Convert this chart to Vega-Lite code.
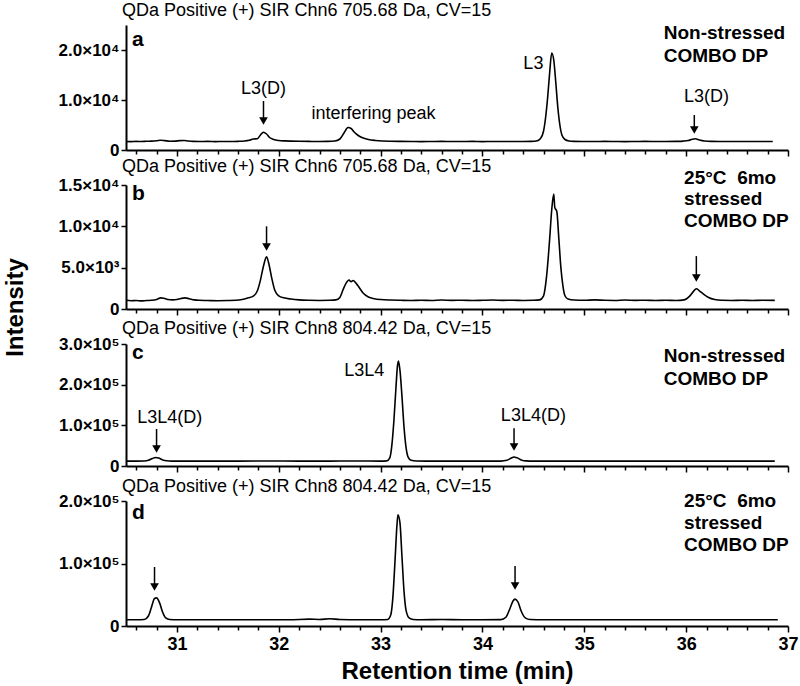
{
  "$schema": "https://vega.github.io/schema/vega-lite/v6.json",
  "padding": {"left": 3, "top": 1, "right": 5, "bottom": 2},
  "background": "white",
  "spacing": 35,
  "bounds": "flush",
  "config": {
    "view": {"stroke": null},
    "font": "Liberation Sans",
    "axis": {"domainColor": "black", "domainWidth": 2, "tickColor": "black", "tickWidth": 1.5, "grid": false, "labelColor": "black", "titleColor": "black", "labelFont": "Liberation Sans", "titleFont": "Liberation Sans"},
    "title": {"anchor": "start", "frame": "group", "fontSize": 18, "fontWeight": "normal", "color": "black", "font": "Liberation Sans", "dx": -4, "offset": 4}
  },
  "datasets": {
    "traces": [
      {"p":"a","t":30.5,"v":1700},{"p":"a","t":30.55,"v":1680},{"p":"a","t":30.6,"v":1720},{"p":"a","t":30.65,"v":1690},{"p":"a","t":30.7,"v":1750},{"p":"a","t":30.75,"v":1780},{"p":"a","t":30.8,"v":1850},{"p":"a","t":30.84,"v":1950},{"p":"a","t":30.88,"v":1880},{"p":"a","t":30.93,"v":1760},{"p":"a","t":30.98,"v":1780},{"p":"a","t":31.03,"v":1880},{"p":"a","t":31.07,"v":1900},{"p":"a","t":31.11,"v":1800},{"p":"a","t":31.16,"v":1720},{"p":"a","t":31.22,"v":1700},{"p":"a","t":31.3,"v":1720},{"p":"a","t":31.38,"v":1680},{"p":"a","t":31.45,"v":1700},{"p":"a","t":31.52,"v":1690},{"p":"a","t":31.6,"v":1730},{"p":"a","t":31.66,"v":1800},{"p":"a","t":31.71,"v":1950},{"p":"a","t":31.75,"v":2200},{"p":"a","t":31.79,"v":2250},{"p":"a","t":31.82,"v":3000},{"p":"a","t":31.85,"v":3550},{"p":"a","t":31.88,"v":3200},{"p":"a","t":31.91,"v":2500},{"p":"a","t":31.95,"v":2100},{"p":"a","t":32.0,"v":1900},{"p":"a","t":32.06,"v":1820},{"p":"a","t":32.12,"v":1780},{"p":"a","t":32.2,"v":1750},{"p":"a","t":32.3,"v":1720},{"p":"a","t":32.4,"v":1700},{"p":"a","t":32.48,"v":1720},{"p":"a","t":32.55,"v":1800},{"p":"a","t":32.6,"v":2200},{"p":"a","t":32.64,"v":3400},{"p":"a","t":32.68,"v":4500},{"p":"a","t":32.71,"v":4300},{"p":"a","t":32.74,"v":3600},{"p":"a","t":32.78,"v":2900},{"p":"a","t":32.83,"v":2400},{"p":"a","t":32.88,"v":2100},{"p":"a","t":32.95,"v":1900},{"p":"a","t":33.02,"v":1800},{"p":"a","t":33.1,"v":1750},{"p":"a","t":33.2,"v":1720},{"p":"a","t":33.3,"v":1700},{"p":"a","t":33.4,"v":1680},{"p":"a","t":33.5,"v":1700},{"p":"a","t":33.6,"v":1720},{"p":"a","t":33.7,"v":1690},{"p":"a","t":33.8,"v":1700},{"p":"a","t":33.9,"v":1720},{"p":"a","t":34.0,"v":1680},{"p":"a","t":34.1,"v":1700},{"p":"a","t":34.2,"v":1690},{"p":"a","t":34.3,"v":1710},{"p":"a","t":34.4,"v":1700},{"p":"a","t":34.48,"v":1720},{"p":"a","t":34.53,"v":1800},{"p":"a","t":34.57,"v":2300},{"p":"a","t":34.6,"v":3800},{"p":"a","t":34.62,"v":6500},{"p":"a","t":34.64,"v":10500},{"p":"a","t":34.66,"v":15500},{"p":"a","t":34.68,"v":19400},{"p":"a","t":34.7,"v":18000},{"p":"a","t":34.72,"v":13500},{"p":"a","t":34.74,"v":8500},{"p":"a","t":34.76,"v":5000},{"p":"a","t":34.78,"v":3000},{"p":"a","t":34.81,"v":2100},{"p":"a","t":34.85,"v":1800},{"p":"a","t":34.9,"v":1720},{"p":"a","t":35.0,"v":1700},{"p":"a","t":35.1,"v":1690},{"p":"a","t":35.2,"v":1720},{"p":"a","t":35.3,"v":1700},{"p":"a","t":35.4,"v":1680},{"p":"a","t":35.5,"v":1700},{"p":"a","t":35.6,"v":1720},{"p":"a","t":35.7,"v":1700},{"p":"a","t":35.8,"v":1690},{"p":"a","t":35.9,"v":1720},{"p":"a","t":35.97,"v":1780},{"p":"a","t":36.02,"v":1900},{"p":"a","t":36.06,"v":2150},{"p":"a","t":36.09,"v":2250},{"p":"a","t":36.13,"v":2000},{"p":"a","t":36.18,"v":1800},{"p":"a","t":36.25,"v":1720},{"p":"a","t":36.35,"v":1700},{"p":"a","t":36.45,"v":1690},{"p":"a","t":36.55,"v":1710},{"p":"a","t":36.65,"v":1700},{"p":"a","t":36.75,"v":1690},{"p":"a","t":36.85,"v":1710},
      {"p":"b","t":30.5,"v":1050},{"p":"b","t":30.55,"v":1000},{"p":"b","t":30.6,"v":1030},{"p":"b","t":30.65,"v":980},{"p":"b","t":30.7,"v":1020},{"p":"b","t":30.75,"v":1050},{"p":"b","t":30.8,"v":1150},{"p":"b","t":30.84,"v":1350},{"p":"b","t":30.87,"v":1300},{"p":"b","t":30.91,"v":1150},{"p":"b","t":30.96,"v":1100},{"p":"b","t":31.0,"v":1150},{"p":"b","t":31.04,"v":1280},{"p":"b","t":31.08,"v":1350},{"p":"b","t":31.12,"v":1250},{"p":"b","t":31.17,"v":1100},{"p":"b","t":31.22,"v":1050},{"p":"b","t":31.3,"v":1030},{"p":"b","t":31.4,"v":1000},{"p":"b","t":31.5,"v":1020},{"p":"b","t":31.58,"v":1050},{"p":"b","t":31.64,"v":1150},{"p":"b","t":31.7,"v":1350},{"p":"b","t":31.75,"v":1550},{"p":"b","t":31.79,"v":2200},{"p":"b","t":31.82,"v":3500},{"p":"b","t":31.85,"v":5200},{"p":"b","t":31.88,"v":6300},{"p":"b","t":31.9,"v":5600},{"p":"b","t":31.93,"v":3800},{"p":"b","t":31.96,"v":2300},{"p":"b","t":32.0,"v":1600},{"p":"b","t":32.05,"v":1350},{"p":"b","t":32.12,"v":1200},{"p":"b","t":32.2,"v":1100},{"p":"b","t":32.3,"v":1050},{"p":"b","t":32.4,"v":1030},{"p":"b","t":32.5,"v":1050},{"p":"b","t":32.56,"v":1100},{"p":"b","t":32.6,"v":1400},{"p":"b","t":32.63,"v":2300},{"p":"b","t":32.66,"v":3100},{"p":"b","t":32.69,"v":3500},{"p":"b","t":32.71,"v":3300},{"p":"b","t":32.73,"v":3450},{"p":"b","t":32.76,"v":3100},{"p":"b","t":32.79,"v":2600},{"p":"b","t":32.83,"v":1900},{"p":"b","t":32.88,"v":1450},{"p":"b","t":32.94,"v":1250},{"p":"b","t":33.0,"v":1150},{"p":"b","t":33.1,"v":1080},{"p":"b","t":33.2,"v":1050},{"p":"b","t":33.3,"v":1030},{"p":"b","t":33.4,"v":1060},{"p":"b","t":33.5,"v":1020},{"p":"b","t":33.6,"v":1080},{"p":"b","t":33.7,"v":1040},{"p":"b","t":33.8,"v":1060},{"p":"b","t":33.9,"v":1030},{"p":"b","t":34.0,"v":1050},{"p":"b","t":34.1,"v":1080},{"p":"b","t":34.2,"v":1040},{"p":"b","t":34.3,"v":1060},{"p":"b","t":34.4,"v":1030},{"p":"b","t":34.5,"v":1050},{"p":"b","t":34.56,"v":1100},{"p":"b","t":34.6,"v":1600},{"p":"b","t":34.63,"v":4000},{"p":"b","t":34.66,"v":8500},{"p":"b","t":34.68,"v":12000},{"p":"b","t":34.7,"v":13900},{"p":"b","t":34.71,"v":12300},{"p":"b","t":34.73,"v":11800},{"p":"b","t":34.75,"v":8500},{"p":"b","t":34.77,"v":5000},{"p":"b","t":34.79,"v":2800},{"p":"b","t":34.81,"v":1600},{"p":"b","t":34.84,"v":1200},{"p":"b","t":34.9,"v":1080},{"p":"b","t":35.0,"v":1050},{"p":"b","t":35.1,"v":1100},{"p":"b","t":35.2,"v":1050},{"p":"b","t":35.3,"v":1030},{"p":"b","t":35.4,"v":1080},{"p":"b","t":35.5,"v":1040},{"p":"b","t":35.6,"v":1060},{"p":"b","t":35.7,"v":1030},{"p":"b","t":35.8,"v":1050},{"p":"b","t":35.9,"v":1030},{"p":"b","t":35.98,"v":1100},{"p":"b","t":36.03,"v":1500},{"p":"b","t":36.07,"v":2100},{"p":"b","t":36.1,"v":2450},{"p":"b","t":36.13,"v":2200},{"p":"b","t":36.17,"v":1800},{"p":"b","t":36.22,"v":1400},{"p":"b","t":36.28,"v":1150},{"p":"b","t":36.35,"v":1050},{"p":"b","t":36.45,"v":1030},{"p":"b","t":36.55,"v":1060},{"p":"b","t":36.65,"v":1030},{"p":"b","t":36.75,"v":1050},{"p":"b","t":36.87,"v":1040},
      {"p":"c","t":30.5,"v":12000},{"p":"c","t":30.6,"v":12000},{"p":"c","t":30.68,"v":12200},{"p":"c","t":30.72,"v":14000},{"p":"c","t":30.76,"v":18500},{"p":"c","t":30.79,"v":21000},{"p":"c","t":30.82,"v":19500},{"p":"c","t":30.86,"v":15000},{"p":"c","t":30.9,"v":12800},{"p":"c","t":30.95,"v":12100},{"p":"c","t":31.05,"v":12000},{"p":"c","t":31.3,"v":12000},{"p":"c","t":31.6,"v":12000},{"p":"c","t":31.9,"v":12300},{"p":"c","t":32.2,"v":12000},{"p":"c","t":32.5,"v":12000},{"p":"c","t":32.8,"v":12400},{"p":"c","t":33.0,"v":12000},{"p":"c","t":33.06,"v":12500},{"p":"c","t":33.09,"v":20000},{"p":"c","t":33.11,"v":50000},{"p":"c","t":33.13,"v":110000},{"p":"c","t":33.15,"v":190000},{"p":"c","t":33.165,"v":245000},{"p":"c","t":33.175,"v":258000},{"p":"c","t":33.19,"v":235000},{"p":"c","t":33.21,"v":170000},{"p":"c","t":33.23,"v":95000},{"p":"c","t":33.25,"v":45000},{"p":"c","t":33.27,"v":22000},{"p":"c","t":33.3,"v":14000},{"p":"c","t":33.35,"v":12200},{"p":"c","t":33.45,"v":12000},{"p":"c","t":33.7,"v":12000},{"p":"c","t":34.0,"v":12000},{"p":"c","t":34.18,"v":12100},{"p":"c","t":34.24,"v":14000},{"p":"c","t":34.28,"v":19000},{"p":"c","t":34.31,"v":22000},{"p":"c","t":34.34,"v":20000},{"p":"c","t":34.38,"v":15000},{"p":"c","t":34.43,"v":12500},{"p":"c","t":34.5,"v":12000},{"p":"c","t":34.8,"v":12000},{"p":"c","t":35.2,"v":12000},{"p":"c","t":35.6,"v":12000},{"p":"c","t":36.0,"v":12000},{"p":"c","t":36.4,"v":12000},{"p":"c","t":36.87,"v":12000},
      {"p":"d","t":30.5,"v":10000},{"p":"d","t":30.6,"v":10000},{"p":"d","t":30.68,"v":10500},{"p":"d","t":30.72,"v":16000},{"p":"d","t":30.75,"v":30000},{"p":"d","t":30.78,"v":44000},{"p":"d","t":30.8,"v":45000},{"p":"d","t":30.83,"v":37000},{"p":"d","t":30.86,"v":22000},{"p":"d","t":30.89,"v":13000},{"p":"d","t":30.93,"v":10300},{"p":"d","t":31.0,"v":10000},{"p":"d","t":31.3,"v":10000},{"p":"d","t":31.6,"v":10000},{"p":"d","t":31.9,"v":10000},{"p":"d","t":32.1,"v":10000},{"p":"d","t":32.3,"v":11000},{"p":"d","t":32.4,"v":10500},{"p":"d","t":32.5,"v":11500},{"p":"d","t":32.6,"v":10500},{"p":"d","t":32.8,"v":10000},{"p":"d","t":33.0,"v":10000},{"p":"d","t":33.07,"v":10500},{"p":"d","t":33.1,"v":18000},{"p":"d","t":33.12,"v":45000},{"p":"d","t":33.14,"v":100000},{"p":"d","t":33.16,"v":160000},{"p":"d","t":33.17,"v":178000},{"p":"d","t":33.19,"v":165000},{"p":"d","t":33.21,"v":110000},{"p":"d","t":33.23,"v":55000},{"p":"d","t":33.25,"v":25000},{"p":"d","t":33.28,"v":13000},{"p":"d","t":33.32,"v":10500},{"p":"d","t":33.4,"v":10000},{"p":"d","t":33.6,"v":10500},{"p":"d","t":33.8,"v":10000},{"p":"d","t":34.0,"v":10000},{"p":"d","t":34.18,"v":10200},{"p":"d","t":34.23,"v":14000},{"p":"d","t":34.27,"v":28000},{"p":"d","t":34.3,"v":40000},{"p":"d","t":34.32,"v":43000},{"p":"d","t":34.35,"v":38000},{"p":"d","t":34.38,"v":24000},{"p":"d","t":34.42,"v":13000},{"p":"d","t":34.47,"v":10300},{"p":"d","t":34.6,"v":10000},{"p":"d","t":35.0,"v":10000},{"p":"d","t":35.5,"v":10000},{"p":"d","t":36.0,"v":10000},{"p":"d","t":36.5,"v":10000},{"p":"d","t":36.9,"v":10000}
    ],
    "notes": [
      {"p":"a","t":31.85,"v":12200,"label":"L3(D)"},
      {"p":"a","t":32.93,"v":7200,"label":"interfering peak"},
      {"p":"a","t":34.5,"v":17200,"label":"L3"},
      {"p":"a","t":36.2,"v":10600,"label":"L3(D)"},
      {"p":"c","t":32.84,"v":234000,"label":"L3L4"},
      {"p":"c","t":30.93,"v":118000,"label":"L3L4(D)"},
      {"p":"c","t":34.5,"v":123000,"label":"L3L4(D)"}
    ],
    "letters": [
      {"p":"a","t":30.56,"v":22000,"label":"a"},
      {"p":"b","t":30.56,"v":13900,"label":"b"},
      {"p":"c","t":30.56,"v":278000,"label":"c"},
      {"p":"d","t":30.56,"v":181000,"label":"d"}
    ],
    "conds": [
      {"p":"a","t":35.78,"v":23400,"label":"Non-stressed"},
      {"p":"a","t":35.78,"v":18800,"label":"COMBO DP"},
      {"p":"b","t":35.98,"v":15850,"label":"25°C\u00a0\u00a06mo"},
      {"p":"b","t":35.98,"v":13300,"label":"stressed"},
      {"p":"b","t":35.98,"v":10650,"label":"COMBO DP"},
      {"p":"c","t":35.78,"v":270000,"label":"Non-stressed"},
      {"p":"c","t":35.78,"v":214000,"label":"COMBO DP"},
      {"p":"d","t":35.98,"v":200000,"label":"25°C\u00a0\u00a06mo"},
      {"p":"d","t":35.98,"v":165000,"label":"stressed"},
      {"p":"d","t":35.98,"v":130000,"label":"COMBO DP"}
    ],
    "arrows": [
      {"p":"a","t":31.85,"v":9800,"v2":5800},
      {"p":"a","t":36.08,"v":7000,"v2":4000},
      {"p":"b","t":31.88,"v":10000,"v2":7500},
      {"p":"b","t":36.1,"v":6400,"v2":3750},
      {"p":"c","t":30.8,"v":91000,"v2":42000},
      {"p":"c","t":34.31,"v":93000,"v2":47000},
      {"p":"d","t":30.78,"v":94400,"v2":62400},
      {"p":"d","t":34.32,"v":96000,"v2":64000}
    ],
    "heads": [
      {"p":"a","t":31.85,"v":5800},
      {"p":"a","t":36.08,"v":4000},
      {"p":"b","t":31.88,"v":7500},
      {"p":"b","t":36.1,"v":3750},
      {"p":"c","t":30.8,"v":42000},
      {"p":"c","t":34.31,"v":47000},
      {"p":"d","t":30.78,"v":62400},
      {"p":"d","t":34.32,"v":64000}
    ]
  },
  "vconcat": [
    {
      "width": 662, "height": 125,
      "title": {"text": "QDa Positive (+) SIR Chn6 705.68 Da, CV=15"},
      "encoding": {
        "x": {"field": "t", "type": "quantitative", "scale": {"domain": [30.5, 37], "nice": false, "zero": false},
              "axis": {"title": null, "labels": false, "values": [30.6,30.8,31,31.2,31.4,31.6,31.8,32,32.2,32.4,32.6,32.8,33,33.2,33.4,33.6,33.8,34,34.2,34.4,34.6,34.8,35,35.2,35.4,35.6,35.8,36,36.2,36.4,36.6,36.8,37],
                       "tickSize": {"condition": {"test": "abs(datum.value - round(datum.value)) < 0.01", "value": 6}, "value": 4}}},
        "y": {"field": "v", "type": "quantitative", "scale": {"domain": [0, 25000], "nice": false},
              "axis": {"title": "Intensity", "titleFontSize": 24, "titleFontWeight": "bold", "titleX": -104, "titleY": 282, "titleAlign": "center", "titleBaseline": "alphabetic", "titleAngle": 270,
                       "values": [0, 10000, 20000], "tickSize": 5, "labelFontSize": 17, "labelFontWeight": "bold", "labelPadding": 2,
                       "labelExpr": "datum.value === 0 ? '0' : datum.value === 10000 ? '1.0×10⁴' : '2.0×10⁴'"}}
      },
      "layer": [
        {"data": {"name": "traces"}, "transform": [{"filter": "datum.p === 'a'"}], "mark": {"type": "line", "color": "black", "strokeWidth": 1.6, "interpolate": "monotone"}},
        {"data": {"name": "notes"}, "transform": [{"filter": "datum.p === 'a'"}], "mark": {"type": "text", "fontSize": 18, "align": "center", "baseline": "middle", "color": "black"}, "encoding": {"text": {"field": "label"}}},
        {"data": {"name": "letters"}, "transform": [{"filter": "datum.p === 'a'"}], "mark": {"type": "text", "fontSize": 21, "fontWeight": "bold", "align": "left", "baseline": "middle", "color": "black"}, "encoding": {"text": {"field": "label"}}},
        {"data": {"name": "conds"}, "transform": [{"filter": "datum.p === 'a'"}], "mark": {"type": "text", "fontSize": 19, "fontWeight": "bold", "align": "left", "baseline": "middle", "color": "black"}, "encoding": {"text": {"field": "label"}}},
        {"data": {"name": "arrows"}, "transform": [{"filter": "datum.p === 'a'"}], "mark": {"type": "rule", "strokeWidth": 1.5, "color": "black"}, "encoding": {"y2": {"field": "v2"}}},
        {"data": {"name": "heads"}, "transform": [{"filter": "datum.p === 'a'"}], "mark": {"type": "point", "shape": "triangle-down", "filled": true, "color": "black", "opacity": 1, "size": 75}}
      ]
    },
    {
      "width": 662, "height": 124,
      "title": {"text": "QDa Positive (+) SIR Chn6 705.68 Da, CV=15", "dy": 11},
      "encoding": {
        "x": {"field": "t", "type": "quantitative", "scale": {"domain": [30.5, 37], "nice": false, "zero": false},
              "axis": {"title": null, "labels": false, "values": [30.6,30.8,31,31.2,31.4,31.6,31.8,32,32.2,32.4,32.6,32.8,33,33.2,33.4,33.6,33.8,34,34.2,34.4,34.6,34.8,35,35.2,35.4,35.6,35.8,36,36.2,36.4,36.6,36.8,37],
                       "tickSize": {"condition": {"test": "abs(datum.value - round(datum.value)) < 0.01", "value": 6}, "value": 4}}},
        "y": {"field": "v", "type": "quantitative", "scale": {"domain": [0, 15000], "nice": false},
              "axis": {"title": null, "values": [0, 5000, 10000, 15000], "tickSize": 5, "labelFontSize": 17, "labelFontWeight": "bold", "labelPadding": 2,
                       "labelExpr": "datum.value === 0 ? '0' : datum.value === 5000 ? '5.0×10³' : datum.value === 10000 ? '1.0×10⁴' : '1.5×10⁴'"}}
      },
      "layer": [
        {"data": {"name": "traces"}, "transform": [{"filter": "datum.p === 'b'"}], "mark": {"type": "line", "color": "black", "strokeWidth": 1.6, "interpolate": "monotone"}},
        {"data": {"name": "letters"}, "transform": [{"filter": "datum.p === 'b'"}], "mark": {"type": "text", "fontSize": 21, "fontWeight": "bold", "align": "left", "baseline": "middle", "color": "black"}, "encoding": {"text": {"field": "label"}}},
        {"data": {"name": "conds"}, "transform": [{"filter": "datum.p === 'b'"}], "mark": {"type": "text", "fontSize": 19, "fontWeight": "bold", "align": "left", "baseline": "middle", "color": "black"}, "encoding": {"text": {"field": "label"}}},
        {"data": {"name": "arrows"}, "transform": [{"filter": "datum.p === 'b'"}], "mark": {"type": "rule", "strokeWidth": 1.5, "color": "black"}, "encoding": {"y2": {"field": "v2"}}},
        {"data": {"name": "heads"}, "transform": [{"filter": "datum.p === 'b'"}], "mark": {"type": "point", "shape": "triangle-down", "filled": true, "color": "black", "opacity": 1, "size": 75}}
      ]
    },
    {
      "width": 662, "height": 122,
      "title": {"text": "QDa Positive (+) SIR Chn8 804.42 Da, CV=15", "dy": 7},
      "encoding": {
        "x": {"field": "t", "type": "quantitative", "scale": {"domain": [30.5, 37], "nice": false, "zero": false},
              "axis": {"title": null, "labels": false, "values": [30.6,30.8,31,31.2,31.4,31.6,31.8,32,32.2,32.4,32.6,32.8,33,33.2,33.4,33.6,33.8,34,34.2,34.4,34.6,34.8,35,35.2,35.4,35.6,35.8,36,36.2,36.4,36.6,36.8,37],
                       "tickSize": {"condition": {"test": "abs(datum.value - round(datum.value)) < 0.01", "value": 6}, "value": 4}}},
        "y": {"field": "v", "type": "quantitative", "scale": {"domain": [0, 300000], "nice": false},
              "axis": {"title": null, "values": [0, 100000, 200000, 300000], "tickSize": 5, "labelFontSize": 17, "labelFontWeight": "bold", "labelPadding": 2,
                       "labelExpr": "datum.value === 0 ? '0' : datum.value === 100000 ? '1.0×10⁵' : datum.value === 200000 ? '2.0×10⁵' : '3.0×10⁵'"}}
      },
      "layer": [
        {"data": {"name": "traces"}, "transform": [{"filter": "datum.p === 'c'"}], "mark": {"type": "line", "color": "black", "strokeWidth": 1.6, "interpolate": "monotone"}},
        {"data": {"name": "notes"}, "transform": [{"filter": "datum.p === 'c'"}], "mark": {"type": "text", "fontSize": 18, "align": "center", "baseline": "middle", "color": "black"}, "encoding": {"text": {"field": "label"}}},
        {"data": {"name": "letters"}, "transform": [{"filter": "datum.p === 'c'"}], "mark": {"type": "text", "fontSize": 21, "fontWeight": "bold", "align": "left", "baseline": "middle", "color": "black"}, "encoding": {"text": {"field": "label"}}},
        {"data": {"name": "conds"}, "transform": [{"filter": "datum.p === 'c'"}], "mark": {"type": "text", "fontSize": 19, "fontWeight": "bold", "align": "left", "baseline": "middle", "color": "black"}, "encoding": {"text": {"field": "label"}}},
        {"data": {"name": "arrows"}, "transform": [{"filter": "datum.p === 'c'"}], "mark": {"type": "rule", "strokeWidth": 1.5, "color": "black"}, "encoding": {"y2": {"field": "v2"}}},
        {"data": {"name": "heads"}, "transform": [{"filter": "datum.p === 'c'"}], "mark": {"type": "point", "shape": "triangle-down", "filled": true, "color": "black", "opacity": 1, "size": 75}}
      ]
    },
    {
      "width": 662, "height": 125,
      "title": {"text": "QDa Positive (+) SIR Chn8 804.42 Da, CV=15", "dy": 8},
      "encoding": {
        "x": {"field": "t", "type": "quantitative", "scale": {"domain": [30.5, 37], "nice": false, "zero": false},
              "axis": {"title": "Retention time (min)", "titleFontSize": 24, "titleFontWeight": "bold", "titlePadding": 6,
                       "labelFontSize": 18, "labelFontWeight": "bold", "labelPadding": 3, "labelOverlap": false, "labelFlush": false,
                       "labelExpr": "abs(datum.value - round(datum.value)) < 0.01 ? format(datum.value, 'd') : ''",
                       "values": [30.6,30.8,31,31.2,31.4,31.6,31.8,32,32.2,32.4,32.6,32.8,33,33.2,33.4,33.6,33.8,34,34.2,34.4,34.6,34.8,35,35.2,35.4,35.6,35.8,36,36.2,36.4,36.6,36.8,37],
                       "tickSize": {"condition": {"test": "abs(datum.value - round(datum.value)) < 0.01", "value": 6}, "value": 4}}},
        "y": {"field": "v", "type": "quantitative", "scale": {"domain": [0, 200000], "nice": false},
              "axis": {"title": null, "values": [0, 100000, 200000], "tickSize": 5, "labelFontSize": 17, "labelFontWeight": "bold", "labelPadding": 2,
                       "labelExpr": "datum.value === 0 ? '0' : datum.value === 100000 ? '1.0×10⁵' : '2.0×10⁵'"}}
      },
      "layer": [
        {"data": {"name": "traces"}, "transform": [{"filter": "datum.p === 'd'"}], "mark": {"type": "line", "color": "black", "strokeWidth": 1.6, "interpolate": "monotone"}},
        {"data": {"name": "letters"}, "transform": [{"filter": "datum.p === 'd'"}], "mark": {"type": "text", "fontSize": 21, "fontWeight": "bold", "align": "left", "baseline": "middle", "color": "black"}, "encoding": {"text": {"field": "label"}}},
        {"data": {"name": "conds"}, "transform": [{"filter": "datum.p === 'd'"}], "mark": {"type": "text", "fontSize": 19, "fontWeight": "bold", "align": "left", "baseline": "middle", "color": "black"}, "encoding": {"text": {"field": "label"}}},
        {"data": {"name": "arrows"}, "transform": [{"filter": "datum.p === 'd'"}], "mark": {"type": "rule", "strokeWidth": 1.5, "color": "black"}, "encoding": {"y2": {"field": "v2"}}},
        {"data": {"name": "heads"}, "transform": [{"filter": "datum.p === 'd'"}], "mark": {"type": "point", "shape": "triangle-down", "filled": true, "color": "black", "opacity": 1, "size": 75}}
      ]
    }
  ]
}
